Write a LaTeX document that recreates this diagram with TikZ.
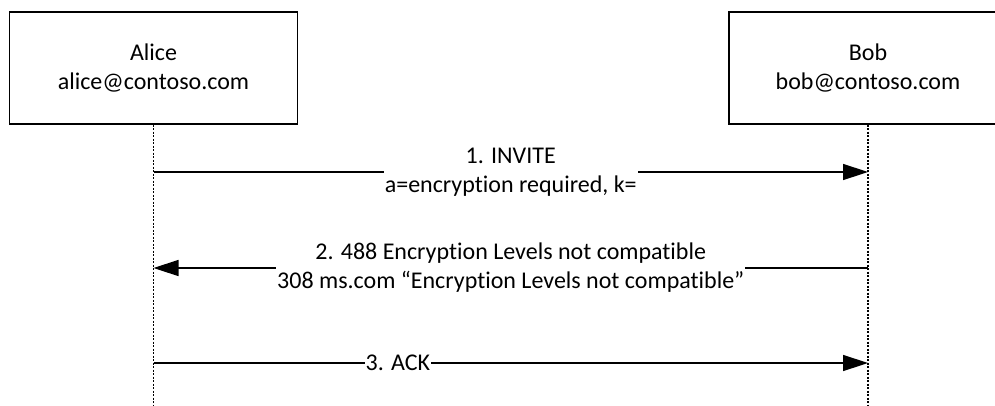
\documentclass[tikz,border=0pt]{standalone}
\usepackage{fontspec}
\setmainfont{Carlito}[Ligatures=NoCommon]
\usetikzlibrary{arrows.meta,positioning}

\begin{document}
\begin{tikzpicture}[x=1pt,y=-1pt,
    party/.style={draw, line width=1.2pt, minimum width=288pt, minimum height=112pt,
      align=center, font=\fontsize{24}{29}\selectfont},
    lifeline/.style={line width=1.2pt, dash pattern=on 2pt off 1.5pt},
    msg/.style={line width=1.4pt, -{Triangle[length=25pt,width=16pt]}},
    msglabel/.style={fill=white, inner sep=1pt, align=center, font=\fontsize{24}{29}\selectfont}]
  \useasboundingbox (0,0) rectangle (995,405);
  % participants
  \node[party] (alice) at (153.5,68) {Alice\\alice@contoso.com};
  \node[party, minimum width=278pt] (bob) at (868,68) {Bob\\bob@contoso.com};
  \coordinate (bottom) at (0,405);
  \draw[lifeline] (alice.south) -- (alice.south |- bottom);
  \draw[lifeline] (bob.south) -- (bob.south |- bottom);
  % message levels
  \foreach \n/\y in {1/172,2/268,3/363} {
    \coordinate (a\n) at (alice.south |- 0,\y);
    \coordinate (b\n) at (bob.south |- 0,\y);
  }
  \draw[msg] (a1) -- (b1) node[msglabel, midway] {1. INVITE\\a=encryption required, k=};
  \draw[msg] (b2) -- (a2) node[msglabel, midway] {2. 488 Encryption Levels not compatible\\308 ms.com “Encryption Levels not compatible”};
  \draw[msg] (a3) -- (b3) node[msglabel, pos=0.342] {3. ACK};
\end{tikzpicture}
\end{document}
